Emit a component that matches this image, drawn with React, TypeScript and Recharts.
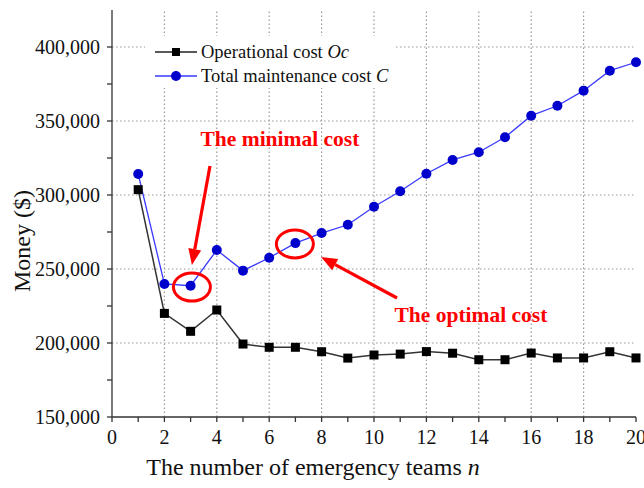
import React from 'react'
import {
  Legend,
  Line,
  LineChart,
  ReferenceDot,
  ReferenceLine,
  XAxis,
  YAxis,
} from 'recharts'

const teams = [1, 2, 3, 4, 5, 6, 7, 8, 9, 10, 11, 12, 13, 14, 15, 16, 17, 18, 19, 20]
const operationalCost = [
  303600, 220000, 207900, 222300, 199300, 197100, 197100, 194100, 189800, 191900,
  192500, 194200, 193100, 188700, 188700, 193200, 189900, 189900, 194100, 189900,
]
const totalCost = [
  314200, 239900, 238700, 262800, 248900, 257600, 267500, 274300, 279900, 292100,
  302500, 314400, 323700, 328900, 339000, 353600, 360300, 370500, 384000, 389700,
]
const xTicks = [0, 1, 2, 3, 4, 5, 6, 7, 8, 9, 10, 11, 12, 13, 14, 15, 16, 17, 18, 19, 20]
const xGrid = [2, 4, 6, 8, 10, 12, 14, 16, 18]
const yTicks = [150000, 175000, 200000, 225000, 250000, 275000, 300000, 325000, 350000, 375000, 400000]
const yGrid = [200000, 250000, 300000, 350000, 400000]

const data = teams.map((n, i) => ({ n, oc: operationalCost[i], c: totalCost[i] }))

const font = '"Liberation Serif", "Times New Roman", serif'
const red = '#ff0000'
const axisColor = '#333'

// annotation anchors, in data units
const minimalLabel = { n: 6.41, v: 337800 }
const optimalLabel = { n: 13.7, v: 218900 }
const minimalArrow = [{ x: 3.74, y: 319600 }, { x: 3.05, y: 252700 }]
const optimalArrow = [{ x: 10.88, y: 230400 }, { x: 7.98, y: 258100 }]
const minimalRing = { n: 3.05, v: 237800 }
const optimalRing = { n: 6.98, v: 266900 }

const SquareDot = (props: any) => (
  <rect
    key={`sq-${props.index}`}
    x={props.cx - 4.5}
    y={props.cy - 4.5}
    width={9}
    height={9}
    fill='#000'
  />
)

const CircleDot = (props: any) => (
  <circle key={`ci-${props.index}`} cx={props.cx} cy={props.cy} r={5} fill='#0000cc' />
)

const Arrow = (props: any) => {
  const { x1, y1, x2, y2 } = props
  const ang = Math.atan2(y2 - y1, x2 - x1)
  const len = 16
  const half = 6.5
  const bx = x2 - len * Math.cos(ang)
  const by = y2 - len * Math.sin(ang)
  const px = -Math.sin(ang) * half
  const py = Math.cos(ang) * half
  return (
    <g>
      <line x1={x1} y1={y1} x2={bx} y2={by} stroke={red} strokeWidth={3.2} />
      <polygon
        points={`${x2},${y2} ${bx + px},${by + py} ${bx - px},${by - py}`}
        fill={red}
      />
    </g>
  )
}

const Ring = (props: any) => (
  <ellipse cx={props.cx} cy={props.cy} rx={18.5} ry={14} fill='none' stroke={red} strokeWidth={3} />
)

const Note = (text: string) => (props: any) => (
  <text
    x={props.cx}
    y={props.cy}
    textAnchor='middle'
    dominantBaseline='central'
    fill={red}
    fontFamily={font}
    fontWeight='bold'
    fontSize={21.5}
  >
    {text}
  </text>
)

const gridLine = { stroke: '#999', strokeDasharray: '1.5 2.5', strokeWidth: 1.2 }

const XTitle = (props: any) => {
  const vb = props.viewBox
  return (
    <text
      x={vb.x + 201}
      y={vb.y + 50}
      textAnchor='middle'
      dominantBaseline='central'
      fontFamily={font}
      fontSize={24}
      fill='#111'
    >
      The number of emergency teams <tspan fontStyle='italic'>n</tspan>
    </text>
  )
}

const YTitle = (props: any) => {
  const vb = props.viewBox
  const x = vb.x + 22
  const y = 241
  return (
    <text
      x={x}
      y={y}
      transform={`rotate(-90, ${x}, ${y})`}
      textAnchor='middle'
      dominantBaseline='central'
      fontFamily={font}
      fontSize={24}
      fill='#111'
    >
      Money ($)
    </text>
  )
}

const legendItems = [
  { name: 'Operational cost ', sym: 'Oc', color: '#222', marker: 'square' },
  { name: 'Total maintenance cost ', sym: 'C', color: '#3a3aff', marker: 'circle' },
]

const renderLegend = () => (
  <div
    style={{
      background: '#fff',
      width: 250,
      height: 52,
      paddingTop: 4,
      boxSizing: 'border-box',
      fontFamily: font,
      fontSize: 18.5,
      color: '#111',
    }}
  >
    {legendItems.map((item) => (
      <div key={item.name} style={{ display: 'flex', alignItems: 'center', height: 24 }}>
        <svg width={56} height={24}>
          <line x1={10} y1={12} x2={52} y2={12} stroke={item.color} strokeWidth={1.5} />
          {item.marker === 'square' ? (
            <rect x={27} y={8} width={8} height={8} fill='#000' />
          ) : (
            <circle cx={31} cy={12} r={5} fill='#0000cc' />
          )}
        </svg>
        <span style={{ whiteSpace: 'pre' }}>
          {item.name}
          <i>{item.sym}</i>
        </span>
      </div>
    ))}
  </div>
)

const tickStyle = { fontFamily: font, fontSize: 20, fill: '#111' }

export default function App() {
  return (
    <div style={{ position: 'absolute', left: 0, top: 0, width: 644, height: 488, background: '#fff' }}>
      <LineChart
        width={644}
        height={488}
        data={data}
        margin={{ top: 10, right: 8, bottom: 0, left: 0 }}
      >
        {yGrid.map((v) => (
          <ReferenceLine key={`gy-${v}`} y={v} {...gridLine} />
        ))}
        {xGrid.map((v) => (
          <ReferenceLine key={`gx-${v}`} x={v} {...gridLine} />
        ))}
        <XAxis
          dataKey='n'
          type='number'
          domain={[0, 20]}
          ticks={xTicks}
          interval={0}
          height={71}
          tickSize={5}
          tickMargin={8}
          tick={tickStyle}
          tickFormatter={(v: number) => (v % 2 === 0 ? String(v) : '')}
          stroke={axisColor}
          strokeWidth={1.3}
          label={<XTitle />}
        />
        <XAxis
          xAxisId='top'
          orientation='top'
          type='number'
          domain={[0, 20]}
          ticks={xTicks}
          interval={0}
          height={0}
          mirror
          tickSize={5}
          tickFormatter={() => ''}
          stroke={axisColor}
          strokeWidth={1.3}
        />
        <YAxis
          type='number'
          domain={[150000, 425000]}
          ticks={yTicks}
          interval={0}
          width={112}
          tickSize={5}
          tickMargin={7}
          tick={tickStyle}
          tickFormatter={(v: number) => (v % 50000 === 0 ? v.toLocaleString('en-US') : '')}
          stroke={axisColor}
          strokeWidth={1.3}
          label={<YTitle />}
        />
        <YAxis
          yAxisId='right'
          orientation='right'
          type='number'
          domain={[150000, 425000]}
          ticks={yTicks}
          interval={0}
          width={0}
          mirror
          tickSize={5}
          tickFormatter={() => ''}
          stroke={axisColor}
          strokeWidth={1.3}
        />
        <Legend
          layout='vertical'
          align='center'
          verticalAlign='middle'
          content={renderLegend}
          wrapperStyle={{ left: 145, top: 36, width: 250 }}
        />
        <Line
          dataKey='oc'
          name='Operational cost Oc'
          stroke='#333'
          strokeWidth={1.5}
          dot={SquareDot}
          isAnimationActive={false}
        />
        <Line
          dataKey='c'
          name='Total maintenance cost C'
          stroke='#3a3aff'
          strokeWidth={1.3}
          dot={CircleDot}
          isAnimationActive={false}
        />
        <ReferenceDot x={minimalRing.n} y={minimalRing.v} r={18} shape={Ring} />
        <ReferenceDot x={optimalRing.n} y={optimalRing.v} r={18} shape={Ring} />
        <ReferenceLine segment={minimalArrow} shape={Arrow} />
        <ReferenceLine segment={optimalArrow} shape={Arrow} />
        <ReferenceDot x={minimalLabel.n} y={minimalLabel.v} r={1} shape={Note('The minimal cost')} />
        <ReferenceDot x={optimalLabel.n} y={optimalLabel.v} r={1} shape={Note('The optimal cost')} />
      </LineChart>
    </div>
  )
}
